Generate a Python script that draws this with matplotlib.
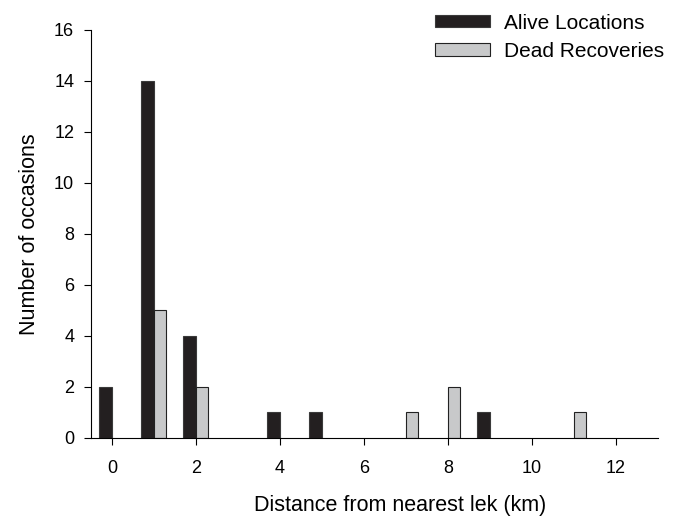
import matplotlib.pyplot as plt
import numpy as np

plt.rcParams['font.family'] = ['Liberation Sans', 'DejaVu Sans']

# distance classes (km) and counts
alive_km = [0, 1, 2, 4, 5, 9]
alive_n = [2, 14, 4, 1, 1, 1]
dead_km = [1, 2, 7, 8, 11]
dead_n = [5, 2, 1, 2, 1]

fig = plt.figure(figsize=(6.83, 5.17), dpi=100)
ax = fig.add_axes([0.133, 0.153, 0.830, 0.789])

w = 0.3
ax.bar(np.array(alive_km), alive_n, width=-w, align='edge', color='#231f20',
       edgecolor='#3a3a3a', linewidth=0.8, label='Alive Locations')
ax.bar(np.array(dead_km), dead_n, width=w, align='edge', color='#c8c9ca',
       edgecolor='#222222', linewidth=0.8, label='Dead Recoveries')

ax.set_xlim(-0.5, 13)
ax.set_ylim(0, 16)
ax.set_xticks(np.arange(0, 13, 2))
ax.set_yticks(np.arange(0, 17, 2))
ax.spines['top'].set_visible(False)
ax.spines['right'].set_visible(False)
ax.tick_params(direction='out', labelsize=13, length=5, width=0.8, pad=7)
ax.tick_params(axis='x', pad=11)

ax.set_xlabel('Distance from nearest lek (km)', fontsize=15.5)
ax.xaxis.set_label_coords(0.545, -0.14)
ax.set_ylabel('Number of occasions', fontsize=15.5, labelpad=10)

fig.legend(loc='upper right', bbox_to_anchor=(1.0, 1.01), frameon=False,
           fontsize=15, handlelength=2.6, handleheight=0.55, labelspacing=0.45,
           handletextpad=0.7)

fig.savefig('out.png', dpi=100)
